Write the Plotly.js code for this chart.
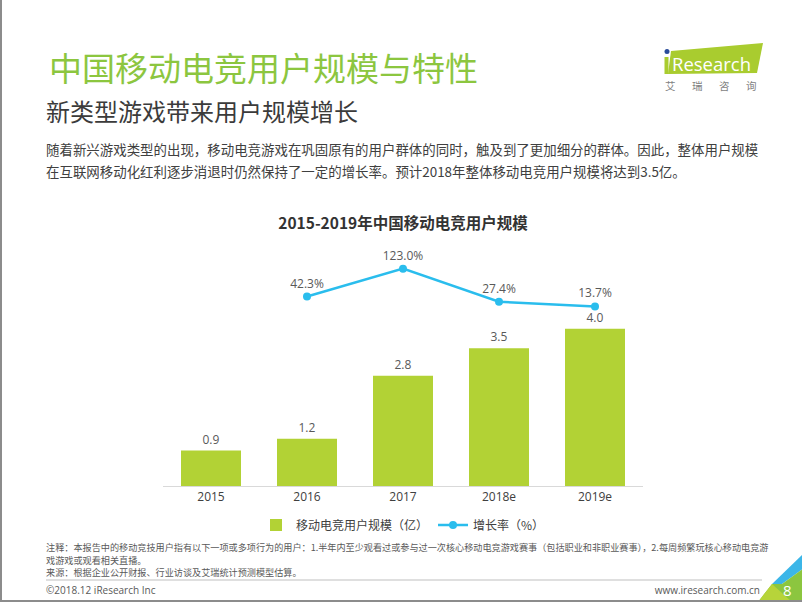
<!DOCTYPE html>
<html>
<head>
<meta charset="utf-8">
<script src="https://cdn.plot.ly/plotly-3.0.1.min.js"></script>
<style>
  html, body { margin:0; padding:0; background:#fff; }
  #page { position:relative; width:802px; height:602px; overflow:hidden; background:#fff;
          font-family:"Noto Sans CJK SC","Open Sans",sans-serif; box-sizing:border-box;
          border-left:2px solid #8c8c8c; border-bottom:2px solid #8c8c8c; }
  #chart { position:absolute; left:0; top:0; width:802px; height:602px; }
  .t { position:absolute; white-space:nowrap; }
</style>
</head>
<body>
<div id="page">
  <div class="t" style="left:47px; top:50px; font-size:33px; line-height:34px; color:#8cc63f;">中国移动电竞用户规模与特性</div>
  <div class="t" style="left:44px; top:98px; font-size:24px; line-height:26px; color:#3b3b3b;">新类型游戏带来用户规模增长</div>
  <div class="t" style="left:44px; top:138px; font-size:13.45px; line-height:22px; color:#404040;">随着新兴游戏类型的出现，移动电竞游戏在巩固原有的用户群体的同时，触及到了更加细分的群体。因此，整体用户规模<br>在互联网移动化红利逐步消退时仍然保持了一定的增长率。预计2018年整体移动电竞用户规模将达到3.5亿。</div>

  <svg style="position:absolute; left:0; top:0;" width="802" height="602">
    <polygon points="669,51 761,43 755,73 666,74" fill="#a9cc2f"/>
    <rect x="662.5" y="57" width="4" height="17" fill="#a9cc2f"/>
    <circle cx="665" cy="51.5" r="2.5" fill="#2a4c9a"/>
    <line x1="44" y1="580" x2="760" y2="580" stroke="#bfbfbf" stroke-width="1"/>
    <polygon points="802,553 802,568 780,584 770,584" fill="#3cb6e8"/>
    <polygon points="802,568 802,602 756,602 770,584 780,584" fill="#8cc63f"/>
    <polygon points="770,584 756,602 790,602" fill="#b7d43a"/>
  </svg>
  <div class="t" style="left:670px; top:52px; font-size:18.5px; line-height:24px; color:#fff; font-family:'Open Sans',sans-serif;">Research</div>
  <div class="t" style="left:663px; top:79px; font-size:10.5px; line-height:14px; color:#7f7f7f; letter-spacing:16.5px;">艾瑞咨询</div>

  <div class="t" style="left:44px; top:541px; font-size:9.15px; line-height:12.5px; color:#595959;">注释：本报告中的移动竞技用户指有以下一项或多项行为的用户：1.半年内至少观看过或参与过一次核心移动电竞游戏赛事（包括职业和非职业赛事），2.每周频繁玩核心移动电竞游<br>戏游戏或观看相关直播。<br>来源：根据企业公开财报、行业访谈及艾瑞统计预测模型估算。</div>
  <div class="t" style="left:44px; top:583px; font-size:10px; line-height:14px; color:#595959; font-family:'Open Sans',sans-serif;">©2018.12 iResearch Inc</div>
  <div class="t" style="right:42px; top:583px; font-size:10px; line-height:14px; color:#595959; font-family:'Open Sans',sans-serif;">www.iresearch.com.cn</div>
  <div class="t" style="left:781px; top:581px; font-size:15px; line-height:18px; color:#fff; font-family:'Open Sans',sans-serif;">8</div>

  <div id="chart"></div>
</div>
<script>
const categories = ["2015", "2016", "2017", "2018e", "2019e"];
const userScale = [0.9, 1.2, 2.8, 3.5, 4.0];
const growthCategories = ["2016", "2017", "2018e", "2019e"];
const growthRate = [42.3, 123.0, 27.4, 13.7];
const chartTitle = "2015-2019年中国移动电竞用户规模";
const barName = "移动电竞用户规模（亿）";
const lineName = "增长率（%）";

const barColor = "#b2d235";
const lineColor = "#2abded";
const fontFam = "'Open Sans','Noto Sans CJK SC',sans-serif";

const traces = [
  {
    type: "bar", x: categories, y: userScale, name: barName,
    marker: { color: barColor },
    text: userScale.map(v => v.toFixed(1)), textposition: "outside",
    textfont: { color: "#595959", size: 12, family: fontFam },
    cliponaxis: false, hoverinfo: "skip"
  },
  {
    type: "scatter", mode: "lines+markers+text", x: growthCategories, y: growthRate,
    name: lineName, yaxis: "y2",
    line: { color: lineColor, width: 2.5 },
    marker: { color: lineColor, size: 8 },
    text: growthRate.map(v => v.toFixed(1) + "%"), textposition: "top center",
    textfont: { color: "#595959", size: 12, family: fontFam },
    cliponaxis: false, hoverinfo: "skip"
  }
];

const layout = {
  width: 802, height: 602,
  paper_bgcolor: "rgba(0,0,0,0)", plot_bgcolor: "rgba(0,0,0,0)",
  margin: { l: 161, r: 161, t: 250, b: 116, pad: 0 },
  font: { family: fontFam, color: "#404040" },
  title: {
    text: "<b>" + chartTitle + "</b>",
    font: { size: 15.5, color: "#333333", family: "'Noto Sans CJK SC','Open Sans',sans-serif" },
    x: 0.5, xanchor: "center", xref: "container",
    y: 1 - 224 / 602, yanchor: "middle", yref: "container"
  },
  bargap: 0.375,
  showlegend: true,
  legend: {
    orientation: "h", x: 0.5, xanchor: "center", y: -0.165, yanchor: "middle",
    font: { size: 12, color: "#404040", family: "'Noto Sans CJK SC',sans-serif" },
    traceorder: "normal", itemwidth: 30
  },
  xaxis: {
    type: "category", showline: true, linecolor: "#d9d9d9", linewidth: 1,
    ticks: "", showgrid: false, zeroline: false,
    tickfont: { size: 12, color: "#404040", family: fontFam }, fixedrange: true
  },
  yaxis: { range: [0, 6.0], visible: false, showgrid: false, zeroline: false, fixedrange: true },
  yaxis2: { range: [-506, 177], overlaying: "y", side: "right", visible: false,
            showgrid: false, zeroline: false, fixedrange: true }
};

Plotly.newPlot("chart", traces, layout, { staticPlot: true, displayModeBar: false });
</script>
</body>
</html>
